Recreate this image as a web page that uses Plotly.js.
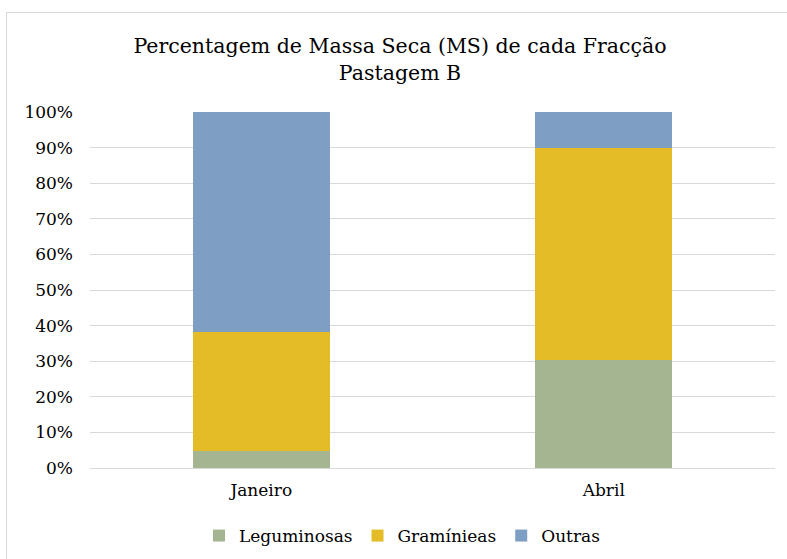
<!DOCTYPE html>
<html>
<head>
<meta charset="utf-8">
<script src="https://cdn.plot.ly/plotly-3.0.1.min.js"></script>
<style>
html,body{margin:0;padding:0;background:#fff;}
#wrap{position:relative;width:787px;height:559px;overflow:hidden;}
#border{position:absolute;left:6px;top:12px;width:800px;height:600px;border:1px solid #d9d9d9;pointer-events:none;}
#chart{position:absolute;left:0;top:0;width:787px;height:559px;}
</style>
</head>
<body>
<div id="wrap"><div id="border"></div><div id="chart"></div></div>
<script>
const categories = ['Janeiro', 'Abril'];
const leguminosas = [4.7, 30.3];
const gramineas = [33.4, 59.5];
const outras = [61.9, 10.2];
const seriesNames = ['Leguminosas', 'Gramínieas', 'Outras'];
const yTicks = [0,10,20,30,40,50,60,70,80,90,100];

const font = 'DejaVu Serif';
const colors = ['#A5B592', '#E4BC27', '#7F9EC3'];
const vals = [leguminosas, gramineas, outras];
const data = vals.map((v, i) => ({
  type: 'bar', x: categories, y: v, name: seriesNames[i],
  marker: {color: colors[i], line: {width: 0}}, hoverinfo: 'skip'
}));

const layout = {
  width: 787, height: 559,
  paper_bgcolor: 'rgba(0,0,0,0)', plot_bgcolor: 'rgba(0,0,0,0)',
  barmode: 'stack', bargap: 0.6,
  margin: {l: 90, r: 12, t: 112, b: 91},
  font: {family: font, color: '#000', size: 17},
  title: {
    text: 'Percentagem de Massa Seca (MS) de cada Fracção<br>Pastagem B',
    font: {family: font, size: 20.5, color: '#000'},
    x: 400/787, xanchor: 'center', xref: 'container',
    y: 1 - 53/559, yanchor: 'middle', yref: 'container'
  },
  xaxis: {
    showgrid: false, showline: false, ticks: '', zeroline: false,
    ticklabelstandoff: 10,
    tickfont: {family: font, size: 17, color: '#000'}
  },
  yaxis: {
    range: [0, 100], tickvals: yTicks, ticktext: yTicks.map(t => t + '%'),
    showgrid: true, gridcolor: '#d9d9d9', gridwidth: 1,
    zeroline: true, zerolinecolor: '#d9d9d9', zerolinewidth: 1,
    showline: false, ticks: '', ticklabelstandoff: 16,
    tickfont: {family: font, size: 17, color: '#000'}
  },
  showlegend: true,
  legend: {
    orientation: 'h', x: 402/787, xanchor: 'center', xref: 'container',
    y: 1 - 536/559, yanchor: 'middle', yref: 'container',
    traceorder: 'normal', font: {family: font, size: 17, color: '#000'}
  }
};
Plotly.newPlot('chart', data, layout, {displayModeBar: false, staticPlot: true});
</script>
</body>
</html>
